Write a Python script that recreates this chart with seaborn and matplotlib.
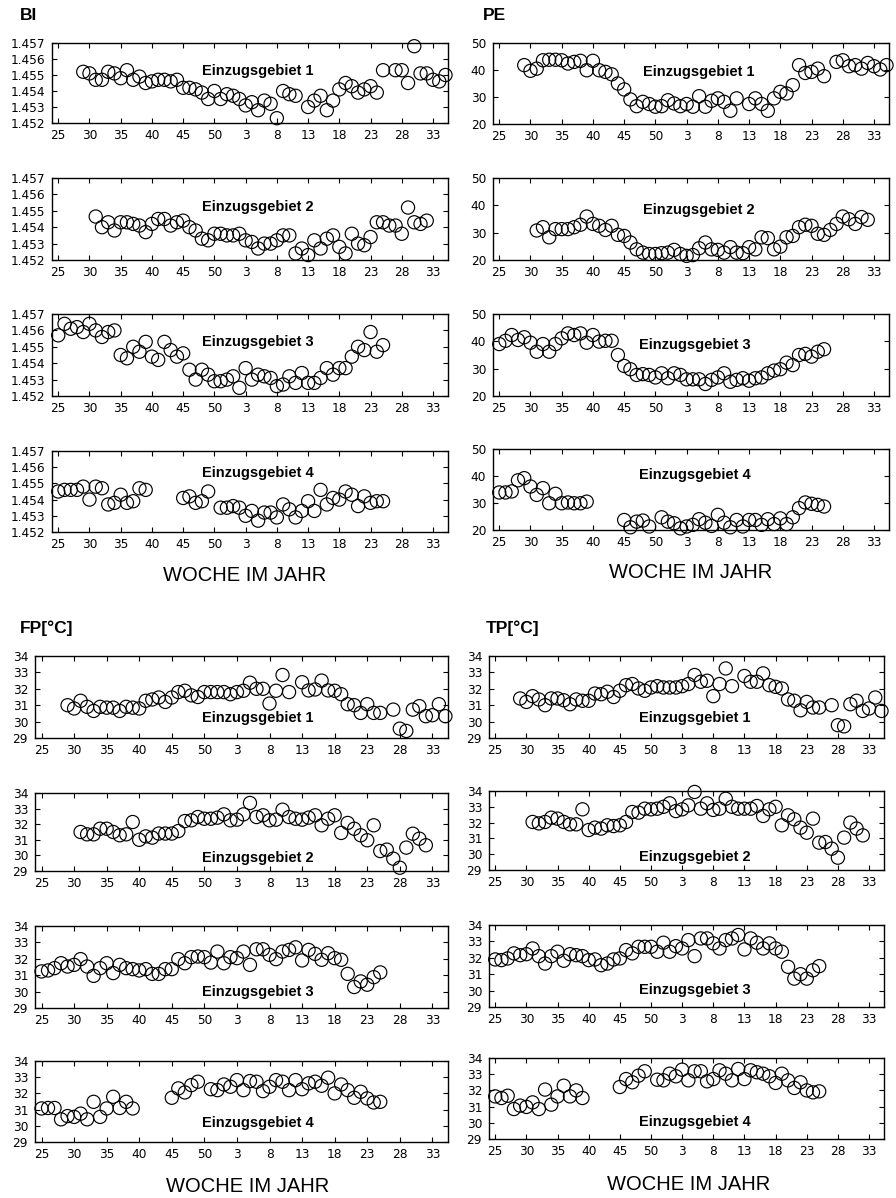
import matplotlib
matplotlib.use("Agg")
import matplotlib.pyplot as plt
import seaborn as sns
import pandas as pd

# ---------------- data ----------------
# continuous week index: 25..52 = weeks of first year, 53.. = weeks 1.. of next year
weeks_1 = list(range(29, 64)) + list(range(65, 78)) + list(range(79, 88))
weeks_2 = list(range(31, 85))
weeks_3 = list(range(25, 78))
weeks_4 = list(range(25, 40)) + list(range(45, 50)) + list(range(51, 78))

tick_pos = [25, 30, 35, 40, 45, 50, 55, 60, 65, 70, 75, 80, 85]
tick_labels = ["25", "30", "35", "40", "45", "50", "3", "8", "13", "18", "23", "28", "33"]

catchments = ["Einzugsgebiet 1", "Einzugsgebiet 2", "Einzugsgebiet 3", "Einzugsgebiet 4"]

bi_1 = [1.4552, 1.4551, 1.4547, 1.4547, 1.4552, 1.4551, 1.4548, 1.4553, 1.4547, 1.4549,
        1.4545, 1.4546, 1.4547, 1.4547, 1.4546, 1.4547, 1.4542, 1.4542, 1.4541, 1.4539,
        1.4535, 1.4540, 1.4535, 1.4538, 1.4537, 1.4535, 1.4531, 1.4533, 1.4528, 1.4534,
        1.4532, 1.4523, 1.4540, 1.4538, 1.4537,
        1.4530, 1.4534, 1.4537, 1.4528, 1.4534, 1.4541, 1.4545, 1.4543, 1.4539, 1.4541,
        1.4543, 1.4539, 1.4553,
        1.4553, 1.4553, 1.4545, 1.4568, 1.4551, 1.4551, 1.4547, 1.4546, 1.4550]
bi_2 = [1.45465, 1.4540, 1.4543, 1.4538, 1.4543, 1.4543, 1.4542, 1.4541, 1.4537, 1.4542,
        1.4545, 1.4545, 1.4541, 1.4543, 1.4544, 1.4540, 1.4538, 1.4533, 1.4532, 1.4536,
        1.4536, 1.4535, 1.4535, 1.4536, 1.4532, 1.4531, 1.4527, 1.4530, 1.4530, 1.4532,
        1.4535, 1.4535, 1.4524, 1.4527, 1.4523, 1.4532, 1.4527, 1.4533, 1.4535, 1.4528,
        1.4524, 1.4536, 1.4530, 1.4529, 1.4534, 1.4543, 1.4543, 1.4541, 1.4541, 1.4536,
        1.4552, 1.4543, 1.4542, 1.4544]
bi_3 = [1.4557, 1.4564, 1.4561, 1.4562, 1.4559, 1.4564, 1.4560, 1.4556, 1.4559, 1.4560,
        1.4545, 1.4543, 1.4550, 1.4547, 1.4553, 1.4544, 1.4542, 1.4553, 1.4548, 1.4544,
        1.4546, 1.4536, 1.4530, 1.4536, 1.4533, 1.4529, 1.4529, 1.4530, 1.4532, 1.4525,
        1.4537, 1.4530, 1.4533, 1.4532, 1.4531, 1.4526, 1.4527, 1.4532, 1.4528, 1.4534,
        1.4528, 1.4528, 1.4531, 1.4537, 1.4533, 1.4537, 1.4537, 1.4544, 1.4550, 1.4548,
        1.4559, 1.4547, 1.4551]
bi_4 = [1.4545, 1.4546, 1.4546, 1.4546, 1.4548, 1.4540, 1.4548, 1.4547, 1.4537, 1.4538,
        1.4543, 1.4538, 1.4539, 1.4547, 1.4546,
        1.4541, 1.4542, 1.4538, 1.4539, 1.4545,
        1.4535, 1.4535, 1.4536, 1.4535, 1.4530, 1.4533, 1.4527, 1.4532, 1.4532, 1.4529,
        1.4537, 1.4534, 1.4529, 1.4533, 1.4539, 1.4533, 1.4546, 1.4537, 1.4541, 1.4540,
        1.4545, 1.4543, 1.4536, 1.4542, 1.4538, 1.4539, 1.4539]

pe_1 = [41.8, 39.7, 40.5, 43.6, 43.8, 43.8, 43.6, 42.4, 43.0, 43.4,
        39.9, 43.4, 39.9, 39.3, 38.4, 35.0, 32.8, 29.1, 26.6, 28.2,
        27.4, 26.4, 26.6, 28.8, 27.6, 26.6, 27.4, 26.4, 30.3, 26.4,
        28.6, 29.5, 28.2, 24.9, 29.5,
        27.4, 29.5, 27.4, 24.9, 29.5, 31.9, 31.3, 34.4, 41.8, 38.9,
        39.3, 40.5, 37.7,
        43.0, 43.6, 41.4, 41.8, 40.5, 42.6, 41.4, 40.2, 41.8]
pe_2 = [30.8, 32.0, 28.3, 31.3, 31.3, 31.3, 32.0, 32.9, 35.9, 33.2,
        32.5, 31.0, 32.5, 29.2, 28.8, 26.4, 23.9, 22.7, 22.2, 22.2,
        22.5, 22.7, 23.7, 22.2, 21.5, 21.8, 24.3, 26.4, 23.9, 23.7,
        22.7, 24.7, 22.7, 22.5, 24.7, 23.9, 28.3, 28.0, 23.9, 24.9,
        28.3, 28.8, 32.0, 32.9, 32.5, 29.6, 29.2, 31.0, 33.2, 35.9,
        34.9, 33.2, 35.7, 34.7]
pe_3 = [39.0, 40.2, 42.3, 40.5, 41.5, 39.5, 36.2, 39.0, 36.2, 39.0,
        41.1, 42.9, 42.3, 42.9, 39.5, 42.3, 39.9, 40.2, 40.2, 35.0,
        31.0, 29.8, 27.7, 28.0, 27.7, 26.8, 28.3, 26.5, 28.3, 27.7,
        26.1, 26.1, 26.1, 24.4, 25.9, 26.8, 28.3, 25.2, 25.9, 26.5,
        25.6, 26.5, 26.8, 28.3, 29.3, 29.8, 32.2, 31.3, 35.0, 35.4,
        34.4, 36.2, 37.1]
pe_4 = [33.9, 33.9, 34.3, 38.4, 39.2, 36.1, 33.0, 35.5, 29.9, 33.4,
        29.9, 30.2, 29.9, 29.9, 30.5,
        23.7, 21.0, 23.1, 23.5, 21.3,
        24.7, 23.1, 22.5, 20.6, 21.3, 21.9, 24.0, 22.7, 21.5, 25.6,
        22.7, 21.0, 23.7, 21.3, 23.7, 23.7, 21.9, 24.0, 22.2, 24.3,
        22.2, 24.7, 28.1, 30.2, 29.7, 29.3, 28.7]

fp_1 = [31.0, 30.8, 31.27, 30.9, 30.65, 30.9, 30.85, 30.85, 30.65, 30.9,
        30.85, 30.8, 31.27, 31.35, 31.47, 31.2, 31.47, 31.8, 31.88, 31.6,
        31.5, 31.8, 31.8, 31.8, 31.8, 31.67, 31.8, 31.88, 32.37, 32.0,
        32.0, 31.1, 31.88, 32.84, 31.8,
        32.4, 31.9, 31.96, 32.5, 31.9, 31.88, 31.67, 31.06, 31.0, 30.53,
        31.06, 30.53, 30.53,
        30.73, 29.57, 29.43, 30.73, 30.94, 30.33, 30.39, 31.06, 30.33]
fp_2 = [31.5, 31.35, 31.35, 31.71, 31.71, 31.5, 31.29, 31.35, 32.14, 31.0,
        31.22, 31.14, 31.4, 31.4, 31.4, 31.56, 32.2, 32.25, 32.46, 32.35,
        32.35, 32.42, 32.63, 32.25, 32.29, 32.63, 33.36, 32.46, 32.57, 32.25,
        32.29, 32.93, 32.46, 32.35, 32.29, 32.42, 32.57, 31.93, 32.35, 32.57,
        31.44, 32.08, 31.71, 31.29, 30.97, 31.93, 30.28, 30.37, 29.79, 29.21,
        30.5, 31.39, 31.07, 30.65]
fp_3 = [31.23, 31.29, 31.43, 31.73, 31.53, 31.63, 31.98, 31.53, 30.96, 31.43,
        31.73, 31.13, 31.63, 31.43, 31.37, 31.29, 31.37, 31.08, 31.08, 31.37,
        31.37, 31.98, 31.73, 32.1, 32.14, 32.1, 31.77, 32.44, 31.73, 32.1,
        32.04, 32.44, 31.63, 32.58, 32.58, 32.24, 31.98, 32.44, 32.54, 32.7,
        31.9, 32.54, 32.3, 31.94, 32.34, 32.04, 31.94, 31.08, 30.28, 30.62,
        30.42, 30.88, 31.17]
fp_4 = [31.07, 31.1, 31.1, 30.4, 30.6, 30.55, 30.75, 30.4, 31.48, 30.55,
        31.07, 31.79, 31.1, 31.48, 31.07,
        31.73, 32.31, 32.06, 32.51, 32.72,
        32.26, 32.2, 32.55, 32.41, 32.82, 32.2, 32.76, 32.72, 32.14, 32.41,
        32.82, 32.72, 32.2, 32.82, 32.26, 32.62, 32.72, 32.47, 32.97, 32.0,
        32.55, 32.2, 31.73, 32.1, 31.69, 31.44, 31.48]

tp_1 = [31.41, 31.2, 31.55, 31.35, 31.0, 31.41, 31.41, 31.3, 31.06, 31.35,
        31.27, 31.27, 31.71, 31.67, 31.82, 31.5, 31.88, 32.22, 32.29, 32.02,
        31.88, 32.08, 32.16, 32.08, 32.08, 32.08, 32.16, 32.29, 32.84, 32.43,
        32.49, 31.55, 32.29, 33.24, 32.16,
        32.78, 32.43, 32.43, 32.94, 32.22, 32.12, 32.02, 31.35, 31.27, 30.69,
        31.2, 30.86, 30.86,
        31.0, 29.78, 29.71, 31.06, 31.27, 30.65, 30.8, 31.47, 30.65]
tp_2 = [32.04, 31.95, 32.04, 32.31, 32.25, 32.04, 31.89, 31.89, 32.84, 31.53,
        31.68, 31.62, 31.83, 31.78, 31.83, 32.04, 32.67, 32.63, 32.88, 32.84,
        32.88, 33.0, 33.22, 32.73, 32.84, 33.09, 33.94, 32.88, 33.22, 32.8,
        32.88, 33.51, 33.0, 32.88, 32.88, 32.88, 33.05, 32.42, 32.84, 33.0,
        31.83, 32.46, 32.21, 31.68, 31.36, 32.25, 30.73, 30.77, 30.35, 29.78,
        31.05, 32.0, 31.62, 31.19]
tp_3 = [31.9, 31.86, 31.96, 32.27, 32.16, 32.22, 32.57, 32.1, 31.65, 32.1,
        32.37, 31.82, 32.22, 32.16, 32.1, 31.86, 31.9, 31.55, 31.65, 31.9,
        31.96, 32.47, 32.27, 32.67, 32.67, 32.67, 32.37, 32.92, 32.37, 32.71,
        32.57, 33.08, 32.1, 33.18, 33.18, 32.88, 32.57, 33.08, 33.18, 33.39,
        32.51, 33.18, 32.92, 32.57, 32.88, 32.57, 32.37, 31.45, 30.73, 31.0,
        30.73, 31.24, 31.49]
tp_4 = [31.63, 31.53, 31.67, 30.85, 31.06, 30.98, 31.26, 30.85, 32.05, 31.12,
        31.63, 32.29, 31.63, 32.0, 31.53,
        32.21, 32.7, 32.5, 32.91, 33.18,
        32.66, 32.62, 33.03, 32.87, 33.28, 32.62, 33.18, 33.18, 32.56, 32.7,
        33.24, 33.03, 32.62, 33.32, 32.7, 33.24, 33.12, 33.03, 32.87, 32.46,
        33.03, 32.62, 32.15, 32.5, 32.0, 31.88, 31.94]

# ---------------- styling / layout ----------------
sns.set_theme(style="white")
plt.rcParams["font.family"] = ["DejaVu Sans"]
plt.rcParams["text.color"] = "black"

W, H = 896, 1198
fig = plt.figure(figsize=(W / 100, H / 100), dpi=100)
fig.patch.set_facecolor("white")


def rect(x0, x1, ytop, ybot):
    return [x0 / W, 1 - ybot / H, (x1 - x0) / W, (ybot - ytop) / H]


weeks_all = [weeks_1, weeks_2, weeks_3, weeks_4]

groups = [
    dict(title="BI", series=[bi_1, bi_2, bi_3, bi_4], x=(52, 448),
         ys=[(43, 123), (178, 260), (314, 396), (451, 532)],
         ylim=(1.452, 1.457), yticks=[1.452, 1.453, 1.454, 1.455, 1.456, 1.457],
         yfmt="{:.3f}", title_xy=(20, 15),
         lab=[(0.52, 0.65), (0.52, 0.65), (0.52, 0.66), (0.52, 0.73)]),
    dict(title="PE", series=[pe_1, pe_2, pe_3, pe_4], x=(493, 889),
         ys=[(43, 124), (178, 260), (314, 396), (449, 530)],
         ylim=(20, 50), yticks=[20, 30, 40, 50],
         yfmt="{:.0f}", title_xy=(483, 15),
         lab=[(0.52, 0.64), (0.52, 0.61), (0.51, 0.62), (0.51, 0.68)]),
    dict(title="FP[°C]", series=[fp_1, fp_2, fp_3, fp_4], x=(35, 448),
         ys=[(656, 738), (793, 871), (926, 1008), (1061, 1142)],
         ylim=(29, 34), yticks=[29, 30, 31, 32, 33, 34],
         yfmt="{:.0f}", title_xy=(20, 628),
         lab=[(0.54, 0.24), (0.54, 0.17), (0.54, 0.20), (0.54, 0.23)]),
    dict(title="TP[°C]", series=[tp_1, tp_2, tp_3, tp_4], x=(489, 884),
         ys=[(656, 738), (791, 870), (925, 1007), (1058, 1139)],
         ylim=(29, 34), yticks=[29, 30, 31, 32, 33, 34],
         yfmt="{:.0f}", title_xy=(486, 628),
         lab=[(0.52, 0.24), (0.52, 0.16), (0.52, 0.21), (0.52, 0.21)]),
]

for g in groups:
    for i in range(4):
        ax = fig.add_axes(rect(g["x"][0], g["x"][1], *g["ys"][i]))
        df = pd.DataFrame({"week": weeks_all[i], "value": g["series"][i]})
        sns.scatterplot(data=df, x="week", y="value", ax=ax, marker="o",
                        s=90, facecolor="none", edgecolor="black",
                        linewidth=0.85, clip_on=False, legend=False)
        ax.set_xlim(24.0, 87.4)
        ax.set_ylim(*g["ylim"])
        ax.set_xticks(tick_pos)
        ax.set_xticklabels(tick_labels)
        ax.set_yticks(g["yticks"])
        ax.set_yticklabels([g["yfmt"].format(v) for v in g["yticks"]])
        ax.set_xlabel("")
        ax.set_ylabel("")
        ax.tick_params(direction="in", length=3.5, width=0.8, top=True, right=True,
                       bottom=True, left=True, labelsize=8.7, colors="black", pad=4)
        ax.tick_params(axis="y", pad=5)
        for sp in ax.spines.values():
            sp.set_visible(True)
            sp.set_color("black")
            sp.set_linewidth(1.0)
        ax.set_facecolor("white")
        ax.text(g["lab"][i][0], g["lab"][i][1], catchments[i], transform=ax.transAxes,
                ha="center", va="center", fontsize=10.5, fontweight="bold",
                family=["Liberation Sans", "DejaVu Sans"], color="black")
    tx, ty = g["title_xy"]
    fig.text(tx / W, 1 - ty / H, g["title"], ha="left", va="center", fontsize=12.5,
             fontweight="bold", color="black", family=["Liberation Sans", "DejaVu Sans"])

for (cx, cy) in [(245, 575), (691, 573), (248, 1187), (689, 1185)]:
    fig.text(cx / W, 1 - cy / H, "WOCHE IM JAHR", ha="center", va="center",
             fontsize=14.5, color="black", family=["Liberation Sans", "DejaVu Sans"])

fig.savefig("out.png", dpi=100, facecolor="white")
